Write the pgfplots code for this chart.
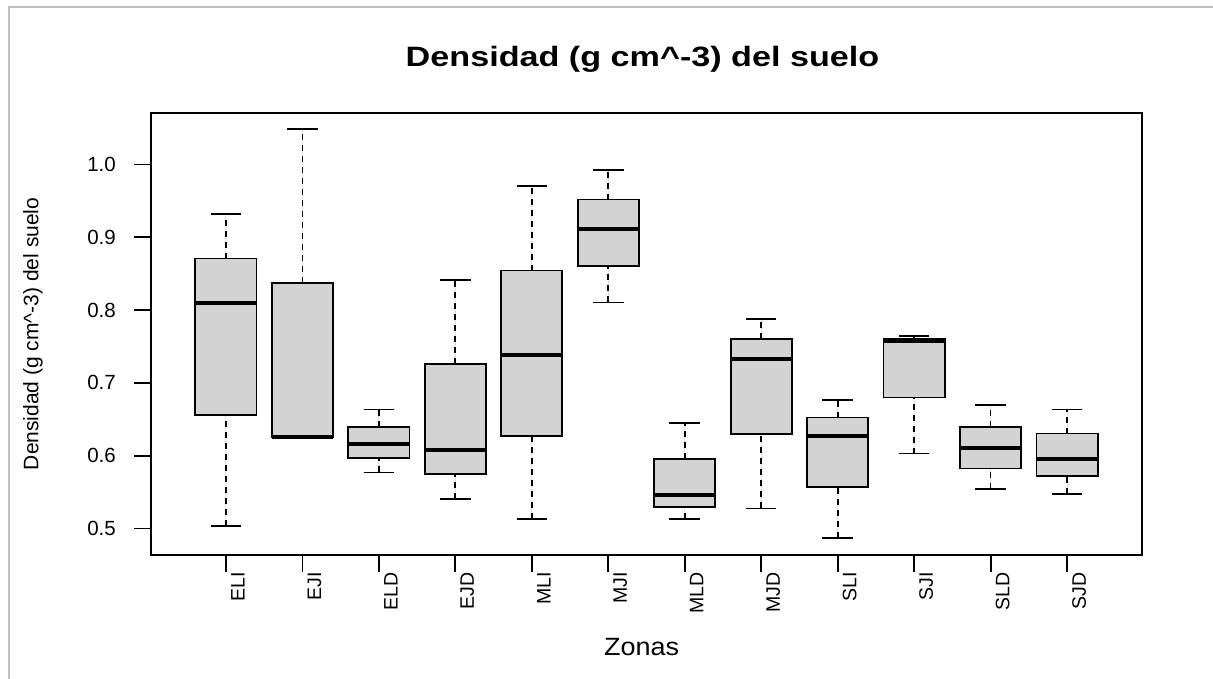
\documentclass[border=0pt]{standalone}
\usepackage{fontspec}
\setmainfont{Liberation Sans}
\usepackage{graphicx}
\usepackage{pgfplots}
\pgfplotsset{compat=1.18}
\usepgfplotslibrary{statistics}
\definecolor{boxgray}{RGB}{211,211,211}
\definecolor{framegray}{RGB}{192,192,192}
\pgfplotsset{
  rbox/.style={
    draw=black, fill=boxgray, line width=1.8pt, solid,
    boxplot/draw direction=y,
    boxplot/box extend=0.8,
    boxplot/whisker extend=0.4,
    boxplot/every median/.style={line width=4pt},
    boxplot/draw/lower whisker/.code={%
      \draw[black, line width=1.7pt, dash pattern=on 6pt off 5pt]
        (boxplot box cs:\pgfplotsboxplotvalue{lower whisker},0.5) --
        (boxplot box cs:\pgfplotsboxplotvalue{lower quartile},0.5);
      \draw[black, line width=1.7pt]
        (boxplot whisker cs:\pgfplotsboxplotvalue{lower whisker},0) --
        (boxplot whisker cs:\pgfplotsboxplotvalue{lower whisker},1);
    },
    boxplot/draw/upper whisker/.code={%
      \draw[black, line width=1.7pt, dash pattern=on 6pt off 5pt]
        (boxplot box cs:\pgfplotsboxplotvalue{upper quartile},0.5) --
        (boxplot box cs:\pgfplotsboxplotvalue{upper whisker},0.5);
      \draw[black, line width=1.7pt]
        (boxplot whisker cs:\pgfplotsboxplotvalue{upper whisker},0) --
        (boxplot whisker cs:\pgfplotsboxplotvalue{upper whisker},1);
    },
  }
}
\begin{document}
\begin{tikzpicture}
\useasboundingbox (0pt,0pt) rectangle (1213pt,679pt);
\fill[white] (0pt,0pt) rectangle (1213pt,679pt);
\draw[framegray, line width=2pt] (8.5pt,0pt) -- (8.5pt,672pt) -- (1213pt,672pt);
\begin{axis}[
  at={(151pt,124pt)}, anchor=south west,
  scale only axis, width=991pt, height=442.3pt,
  xmin=0.02, xmax=12.98, ymin=0.4635, ymax=1.0711,
  axis line style={line width=2pt, black},
  every tick/.style={line width=1.8pt, black},
  major tick length=17pt, tick align=outside,
  xtick pos=bottom, ytick pos=left,
  xtick={1,2,3,4,5,6,7,8,9,10,11,12},
  xticklabels={ELI,EJI,ELD,EJD,MLI,MJI,MLD,MJD,SLI,SJI,SLD,SJD},
  ytick={0.5,0.6,0.7,0.8,0.9,1.0},
  yticklabels={0.5,0.6,0.7,0.8,0.9,1.0},
  x tick label style={rotate=90, anchor=east, font=\fontsize{19.5}{19.5}\selectfont, inner sep=0pt, yshift=-12pt},
  y tick label style={anchor=east, font=\fontsize{20.5}{20.5}\selectfont, inner sep=0pt, xshift=-18pt},
  title={\scalebox{1.22}[1]{Densidad (g cm\textasciicircum-3) del suelo}},
  title style={at={(axis description cs:0.496,1.0898)}, anchor=base, font=\fontsize{28}{28}\selectfont\bfseries, inner sep=0pt},
  xlabel={\scalebox{1.08}[1]{Zonas}},
  xlabel style={at={(axis description cs:0.495,-0.2261)}, anchor=base, font=\fontsize{25}{25}\selectfont, inner sep=0pt},
  ylabel={Densidad (g cm\textasciicircum-3) del suelo},
  ylabel style={at={(axis description cs:-0.119,0.5)}, anchor=center, font=\fontsize{21}{21}\selectfont, inner sep=0pt},
]
\addplot[rbox, boxplot prepared={draw position=1, lower whisker=0.503, lower quartile=0.656, median=0.810, upper quartile=0.8707, upper whisker=0.9315}] coordinates {};
\addplot[rbox, boxplot prepared={draw position=2, lower whisker=0.626, lower quartile=0.626, median=0.626, upper quartile=0.8376, upper whisker=1.0486}] coordinates {};
\addplot[rbox, boxplot prepared={draw position=3, lower whisker=0.577, lower quartile=0.5968, median=0.6156, upper quartile=0.6395, upper whisker=0.6633}] coordinates {};
\addplot[rbox, boxplot prepared={draw position=4, lower whisker=0.5404, lower quartile=0.5753, median=0.6078, upper quartile=0.7256, upper whisker=0.8412}] coordinates {};
\addplot[rbox, boxplot prepared={draw position=5, lower whisker=0.5129, lower quartile=0.6266, median=0.738, upper quartile=0.8542, upper whisker=0.970}] coordinates {};
\addplot[rbox, boxplot prepared={draw position=6, lower whisker=0.8105, lower quartile=0.860, median=0.912, upper quartile=0.9518, upper whisker=0.9922}] coordinates {};
\addplot[rbox, boxplot prepared={draw position=7, lower whisker=0.513, lower quartile=0.5294, median=0.546, upper quartile=0.595, upper whisker=0.645}] coordinates {};
\addplot[rbox, boxplot prepared={draw position=8, lower whisker=0.5275, lower quartile=0.630, median=0.733, upper quartile=0.7606, upper whisker=0.788}] coordinates {};
\addplot[rbox, boxplot prepared={draw position=9, lower whisker=0.4872, lower quartile=0.5564, median=0.6266, upper quartile=0.6523, upper whisker=0.676}] coordinates {};
\addplot[rbox, boxplot prepared={draw position=10, lower whisker=0.6028, lower quartile=0.6798, median=0.7578, upper quartile=0.7606, upper whisker=0.7642}] coordinates {};
\addplot[rbox, boxplot prepared={draw position=11, lower whisker=0.5546, lower quartile=0.5822, median=0.610, upper quartile=0.6395, upper whisker=0.670}] coordinates {};
\addplot[rbox, boxplot prepared={draw position=12, lower whisker=0.5473, lower quartile=0.5716, median=0.5955, upper quartile=0.6303, upper whisker=0.6633}] coordinates {};
\end{axis}
\end{tikzpicture}
\end{document}
